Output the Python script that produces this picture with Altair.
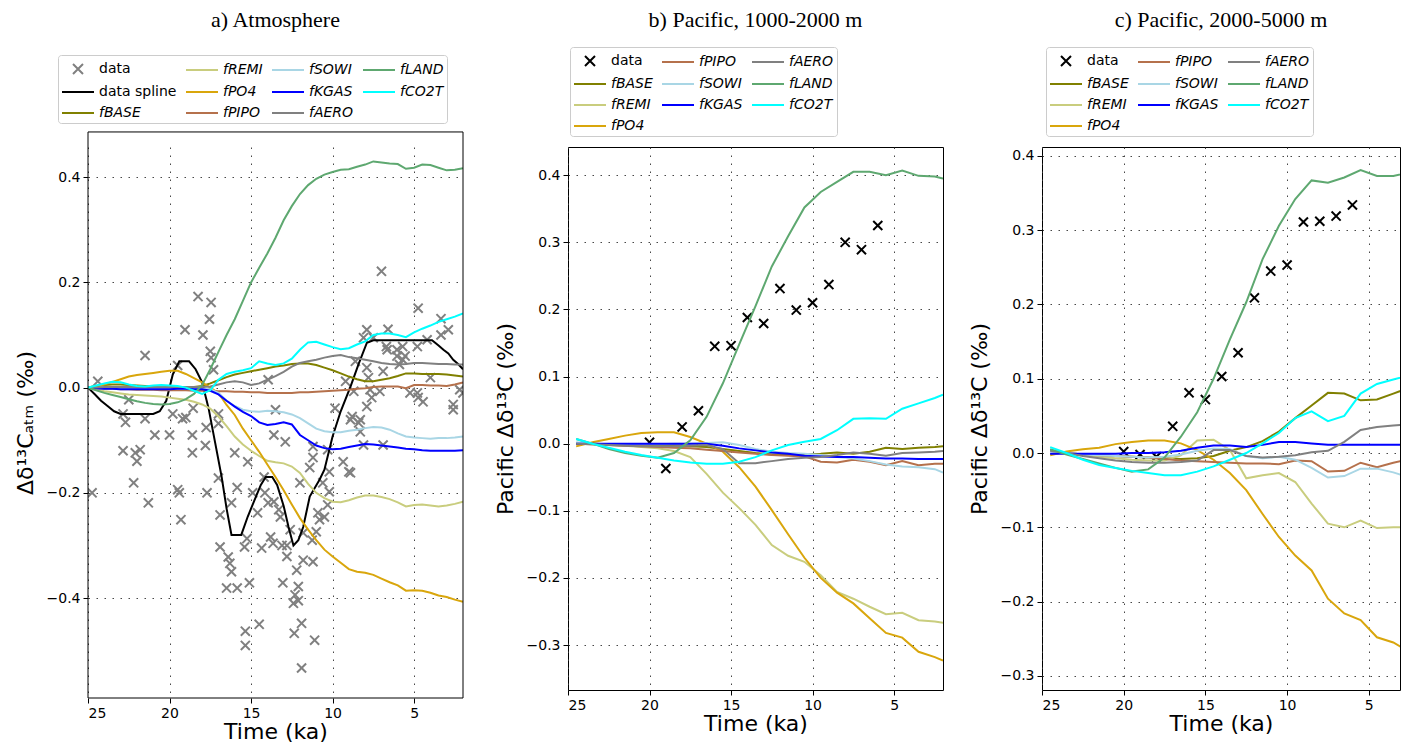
import altair as alt
import pandas as pd

# ---------------- Panel a: Atmosphere ----------------
TIME_A = [25, 24.5, 24, 23.5, 23, 22.5, 22, 21.5, 21, 20.5, 20, 19.5, 19, 18.5, 18, 17.5,
          17, 16.5, 16, 15.5, 15, 14.5, 14, 13.5, 13, 12.5, 12, 11.5, 11, 10.5, 10, 9.5,
          9, 8.5, 8, 7.5, 7, 6.5, 6, 5.5, 5, 4.5, 4, 3.5, 3, 2.5, 2]
A_FBASE = [0, 0.003, 0.005, 0.006, 0.006, 0.005, 0.004, 0.003, 0.002, 0.001, 0.0, 0.0, 0.0, 0.001, 0.003, 0.008,
           0.014, 0.02, 0.025, 0.028, 0.031, 0.034, 0.037, 0.04, 0.042, 0.045, 0.046, 0.046, 0.043, 0.038, 0.033, 0.027,
           0.021, 0.016, 0.012, 0.012, 0.015, 0.018, 0.022, 0.027, 0.027, 0.026, 0.026, 0.026, 0.025, 0.023, 0.021]
A_FREMI = [0, -0.004, -0.007, -0.009, -0.011, -0.013, -0.014, -0.015, -0.016, -0.017, -0.019, -0.021, -0.023, -0.027, -0.032, -0.04,
           -0.055, -0.073, -0.093, -0.108, -0.12, -0.13, -0.139, -0.142, -0.144, -0.15, -0.162, -0.183, -0.2, -0.21, -0.217, -0.218,
           -0.214, -0.209, -0.205, -0.205, -0.208, -0.212, -0.218, -0.226, -0.223, -0.222, -0.224, -0.226, -0.224, -0.221, -0.217]
A_FPO4 = [0, 0.003, 0.006, 0.011, 0.016, 0.021, 0.024, 0.026, 0.028, 0.03, 0.032, 0.032, 0.026, 0.018, 0.01, 0.0,
          -0.01, -0.033, -0.052, -0.078, -0.1, -0.122, -0.146, -0.17, -0.195, -0.222, -0.248, -0.27, -0.29, -0.308, -0.321, -0.333,
          -0.345, -0.35, -0.352, -0.356, -0.363, -0.37, -0.376, -0.386, -0.385, -0.386, -0.39, -0.395, -0.398, -0.403, -0.407]
A_FPIPO = [0, -0.001, -0.002, -0.002, -0.003, -0.003, -0.004, -0.004, -0.004, -0.005, -0.005, -0.005, -0.005, -0.006, -0.006, -0.006,
           -0.007, -0.007, -0.008, -0.008, -0.009, -0.009, -0.01, -0.01, -0.01, -0.01, -0.009, -0.009, -0.008, -0.007, -0.006, -0.005,
           -0.004, -0.002, -0.001, 0.001, 0.002, 0.002, 0.002, -0.001, 0.005, 0.005, 0.004, 0.004, 0.003, 0.006, 0.01]
A_FSOWI = [0, -0.001, -0.001, -0.001, -0.002, -0.002, -0.002, -0.002, -0.002, -0.002, -0.002, -0.002, -0.002, -0.002, -0.002, -0.003,
           -0.01, -0.025, -0.035, -0.042, -0.045, -0.046, -0.044, -0.045, -0.047, -0.051, -0.058, -0.068, -0.078, -0.083, -0.085, -0.085,
           -0.082, -0.08, -0.077, -0.075, -0.076, -0.08, -0.087, -0.093, -0.095, -0.096, -0.097, -0.096, -0.096, -0.095, -0.093]
A_FKGAS = [0, -0.001, -0.002, -0.002, -0.003, -0.003, -0.003, -0.003, -0.003, -0.003, -0.003, -0.002, -0.002, -0.003, -0.003, -0.006,
           -0.013, -0.025, -0.036, -0.046, -0.054, -0.066, -0.071, -0.069, -0.066, -0.07, -0.09, -0.1, -0.11, -0.115, -0.117, -0.116,
           -0.113, -0.11, -0.107, -0.108, -0.11, -0.112, -0.114, -0.116, -0.117, -0.119, -0.12, -0.12, -0.12, -0.12, -0.119]
A_FAERO = [0, 0.0, 0.001, 0.001, 0.001, 0.001, 0.001, 0.001, 0.001, 0.001, 0.001, 0.001, 0.001, 0.001, 0.001, 0.002,
           0.006, 0.01, 0.012, 0.01, 0.005, 0.008, 0.015, 0.022, 0.03, 0.04, 0.047, 0.05, 0.053, 0.057, 0.06, 0.062,
           0.058, 0.056, 0.053, 0.05, 0.047, 0.045, 0.044, 0.045, 0.047, 0.047, 0.046, 0.045, 0.045, 0.044, 0.044]
A_FLAND = [0, -0.005, -0.01, -0.014, -0.018, -0.022, -0.026, -0.029, -0.031, -0.032, -0.031, -0.028, -0.022, -0.012, 0.005, 0.035,
           0.068, 0.1, 0.13, 0.165, 0.2, 0.228, 0.255, 0.285, 0.318, 0.345, 0.368, 0.385, 0.397, 0.405, 0.41, 0.414,
           0.415, 0.42, 0.424, 0.43, 0.428, 0.426, 0.425, 0.416, 0.418, 0.424, 0.423, 0.418, 0.413, 0.414, 0.417]
A_FCO2T = [0, 0.004, 0.008, 0.011, 0.01, 0.006, 0.003, 0.002, 0.004, 0.005, 0.004, 0.003, 0.0, -0.006, -0.012, -0.005,
           0.015, 0.026, 0.03, 0.033, 0.037, 0.05, 0.046, 0.043, 0.046, 0.055, 0.072, 0.086, 0.087, 0.082, 0.077, 0.073,
           0.075, 0.082, 0.088, 0.1, 0.103, 0.103, 0.1, 0.096, 0.105, 0.112, 0.118, 0.125, 0.13, 0.135, 0.141]

SPLINE_T = [25, 24.6, 24.2, 23.8, 23.4, 23.0, 21.0, 20.6, 20.2, 19.8, 19.4, 18.8, 18.4, 18.0, 17.6, 17.2,
            16.8, 16.5, 16.2, 15.6, 15.2, 14.8, 14.4, 14.1, 13.7, 13.4, 13.0, 12.7, 12.4, 12.1, 11.8, 11.4,
            10.8, 10.5, 10.0, 9.5, 8.9, 8.4, 7.9, 7.5, 7.1, 3.9, 3.5, 3.2, 2.9, 2.6, 2.3, 2.0]
SPLINE_V = [0, -0.012, -0.025, -0.035, -0.045, -0.05, -0.05, -0.045, -0.025, 0.025, 0.05, 0.05, 0.035, 0.01, -0.04, -0.105,
            -0.17, -0.23, -0.28, -0.28, -0.245, -0.215, -0.185, -0.17, -0.17, -0.185, -0.225, -0.265, -0.3, -0.29, -0.265, -0.207,
            -0.175, -0.156, -0.093, -0.045, 0.002, 0.045, 0.085, 0.09, 0.09, 0.09, 0.08, 0.072, 0.065, 0.053, 0.045, 0.035]

A_DATA_T = [24.75, 24.4, 22.85, 22.7, 22.5, 22.85, 22.1, 21.8, 22.0, 22.2, 21.3, 21.5, 21.5, 20.9, 20.0, 19.8,
            19.5, 19.2, 19.0, 19.5, 19.4, 19.3, 18.6, 18.6, 18.55, 17.8, 17.7, 17.75, 17.5, 17.3, 17.0, 18.25,
            17.45, 17.55, 19.05, 17.95, 17.45, 17.0, 17.0, 16.9, 16.9, 16.4, 16.3, 16.2, 16.5, 15.85, 16.0, 15.85,
            16.2, 15.2, 15.25, 15.4, 15.1, 15.35, 15.35, 14.5, 14.9, 14.6, 14.15, 13.95, 14.35, 13.8, 13.65, 13.6,
            13.5, 12.9, 13.3, 13.2, 12.8, 12.8, 13.05, 14.2, 13.95, 13.6, 13.1, 12.6, 12.2, 12.1, 12.4, 12.1,
            12.35, 11.9, 11.9, 11.1, 11.8, 11.2, 11.25, 11.0, 10.8, 10.5, 10.3, 11.4, 11.2, 12.0, 10.6, 10.2,
            9.85, 9.35, 9.0, 8.8, 8.3, 7.9, 8.1, 9.2, 8.7, 7.9, 7.6, 6.65, 6.9, 6.05, 5.7, 4.45,
            4.75, 2.6, 2.6, 2.2, 7.0, 4.75, 7.9, 6.6, 3.35, 2.9, 3.35, 8.1, 7.5, 6.7, 5.7, 4.8,
            6.05, 5.55, 5.9, 4.2, 4.0, 8.6, 7.8, 7.7, 7.1, 5.25, 4.8, 2.0, 8.9, 8.4, 8.3, 11.2,
            10.3, 6.9, 10.2, 8.9, 10.9, 11.8, 12.3]
A_DATA_V = [-0.2, 0.012, -0.05, -0.066, -0.023, -0.12, -0.124, -0.118, -0.14, -0.181, -0.219, 0.061, -0.059, -0.09, -0.09, -0.05,
            0.042, -0.059, -0.057, -0.194, -0.2, -0.251, -0.09, -0.124, -0.039, -0.11, -0.2, -0.076, 0.069, 0.034, -0.068, 0.173,
            0.162, 0.13, 0.11, 0.1, 0.057, -0.05, -0.172, -0.242, -0.303, -0.322, -0.334, -0.35, -0.381, -0.381, -0.124, -0.19,
            -0.219, -0.141, -0.287, -0.303, -0.371, -0.463, -0.49, -0.45, -0.2, -0.238, -0.2, -0.219, -0.305, -0.284, -0.296, -0.09,
            -0.042, -0.103, -0.232, -0.246, -0.3, -0.321, -0.371, -0.17, 0.015, -0.217, -0.3, -0.27, -0.347, -0.378, -0.41, -0.405,
            -0.467, -0.448, -0.533, -0.48, -0.328, -0.331, -0.29, -0.274, -0.251, -0.246, -0.223, -0.152, -0.133, -0.181, -0.181, -0.198,
            -0.039, -0.141, -0.16, -0.055, -0.061, -0.036, -0.109, 0.012, -0.007, 0.038, -0.019, 0.072, 0.031, 0.072, 0.053, -0.027,
            -0.019, -0.032, -0.042, -0.004, 0.221, 0.151, 0.11, 0.111, 0.131, 0.11, 0.1, 0.095, 0.095, 0.078, 0.078, 0.078,
            0.06, 0.06, 0.044, 0.091, 0.019, 0.05, 0.019, -0.004, -0.007, -0.01, -0.01, -0.01, -0.061, -0.067, -0.084, -0.112,
            -0.118, -0.109, -0.16, -0.162, -0.238, -0.276, -0.394]

# ---------------- Panel b: Pacific 1000-2000 m ----------------
TIME_B = [24.5, 23.5, 22.5, 21.5, 20.5, 19.5, 18.5, 17.5, 16.5, 15.5, 14.5, 13.5,
          12.5, 11.5, 10.5, 9.5, 8.5, 7.5, 6.5, 5.5, 4.5, 3.5, 2.5, 2.0]
B_FBASE = [0.0, 0.0, -0.001, -0.001, -0.002, -0.002, -0.002, -0.004, -0.005, -0.008, -0.011, -0.014,
           -0.016, -0.016, -0.016, -0.015, -0.013, -0.015, -0.012, -0.006, -0.008, -0.006, -0.005, -0.004]
B_FREMI = [0.0, -0.001, -0.002, -0.003, -0.005, -0.007, -0.011, -0.02, -0.045, -0.073, -0.096, -0.121,
           -0.151, -0.167, -0.176, -0.196, -0.221, -0.231, -0.243, -0.254, -0.252, -0.263, -0.265, -0.267]
B_FPO4 = [-0.004, 0.002, 0.007, 0.012, 0.016, 0.017, 0.017, 0.01, 0.0, -0.012, -0.035, -0.064,
          -0.099, -0.135, -0.17, -0.2, -0.222, -0.238, -0.26, -0.282, -0.289, -0.31, -0.318, -0.323]
B_FPIPO = [0.0, -0.001, -0.002, -0.003, -0.004, -0.005, -0.006, -0.007, -0.009, -0.011, -0.013, -0.015,
           -0.017, -0.018, -0.019, -0.027, -0.028, -0.024, -0.027, -0.032, -0.026, -0.032, -0.03, -0.03]
B_FSOWI = [0.002, 0.0, -0.001, -0.001, -0.001, -0.001, 0.0, 0.0, 0.001, 0.002, -0.002, -0.008,
           -0.012, -0.014, -0.015, -0.017, -0.02, -0.022, -0.026, -0.031, -0.034, -0.035, -0.038, -0.043]
B_FKGAS = [0.0, 0.0, 0.0, 0.0, 0.0, 0.0, 0.0, 0.0, 0.0, -0.003, -0.007, -0.01,
           -0.013, -0.015, -0.018, -0.019, -0.02, -0.02, -0.021, -0.022, -0.022, -0.023, -0.023, -0.023]
B_FAERO = [0.0, -0.001, -0.002, -0.003, -0.004, -0.004, -0.004, -0.003, -0.002, -0.008, -0.029, -0.029,
           -0.026, -0.023, -0.021, -0.02, -0.017, -0.013, -0.015, -0.018, -0.014, -0.013, -0.012, -0.011]
B_FLAND = [0.007, 0.0, -0.008, -0.014, -0.018, -0.021, -0.014, 0.005, 0.04, 0.09, 0.148, 0.205,
           0.264, 0.309, 0.352, 0.375, 0.39, 0.405, 0.405, 0.4, 0.407, 0.399, 0.398, 0.395]
B_FCO2T = [0.007, 0.0, -0.006, -0.012, -0.017, -0.021, -0.025, -0.028, -0.03, -0.03, -0.027, -0.02,
           -0.01, -0.002, 0.003, 0.007, 0.02, 0.037, 0.038, 0.037, 0.052, 0.06, 0.068, 0.073]
B_DATA_T = [20, 19, 18, 17, 16, 15, 14, 13, 12, 11, 10, 9, 8, 7, 6]
B_DATA_V = [0.002, -0.037, 0.025, 0.049, 0.145, 0.146, 0.188, 0.179, 0.231, 0.199, 0.21, 0.237, 0.3, 0.289, 0.325]

# ---------------- Panel c: Pacific 2000-5000 m ----------------
TIME_C = [24.5, 23.5, 22.5, 21.5, 20.5, 19.5, 18.5, 17.5, 16.5, 15.5, 14.5, 13.5,
          12.5, 11.5, 10.5, 9.5, 8.5, 7.5, 6.5, 5.5, 4.5, 3.5, 2.5]
C_FBASE = [0.004, 0.0, -0.002, -0.003, -0.004, -0.005, -0.006, -0.007, -0.008, -0.007, -0.004, 0.003,
           0.008, 0.016, 0.029, 0.047, 0.064, 0.081, 0.08, 0.071, 0.072, 0.08, 0.088]
C_FREMI = [0.003, 0.0, -0.003, -0.005, -0.007, -0.009, -0.01, -0.01, -0.003, 0.017, 0.018, 0.004,
           -0.034, -0.03, -0.027, -0.039, -0.068, -0.095, -0.1, -0.091, -0.101, -0.1, -0.1]
C_FPO4 = [-0.003, 0.002, 0.005, 0.007, 0.012, 0.015, 0.017, 0.017, 0.013, 0.004, -0.009, -0.027,
          -0.05, -0.082, -0.113, -0.138, -0.158, -0.196, -0.216, -0.225, -0.248, -0.255, -0.268]
C_FPIPO = [0.003, 0.0, -0.002, -0.003, -0.004, -0.005, -0.006, -0.008, -0.01, -0.011, -0.012, -0.013,
           -0.014, -0.014, -0.015, -0.01, -0.011, -0.025, -0.024, -0.013, -0.019, -0.013, -0.008]
C_FSOWI = [0.002, 0.0, -0.002, -0.003, -0.004, -0.005, -0.006, -0.005, -0.002, 0.003, 0.006, 0.005,
           -0.004, -0.007, -0.005, -0.009, -0.02, -0.033, -0.031, -0.021, -0.021, -0.026, -0.033]
C_FKGAS = [-0.001, -0.001, -0.001, -0.001, -0.001, 0.0, 0.0, 0.001, 0.003, 0.007, 0.01, 0.01,
           0.008, 0.011, 0.015, 0.015, 0.013, 0.011, 0.011, 0.011, 0.011, 0.011, 0.011]
C_FAERO = [0.003, 0.0, -0.004, -0.007, -0.01, -0.012, -0.013, -0.013, -0.012, -0.01, 0.004, 0.004,
           -0.004, -0.006, -0.005, -0.003, 0.001, 0.003, 0.015, 0.031, 0.035, 0.037, 0.039]
C_FLAND = [0.005, -0.002, -0.008, -0.014, -0.02, -0.025, -0.022, -0.006, 0.022, 0.055, 0.1, 0.153,
           0.203, 0.261, 0.306, 0.342, 0.367, 0.364, 0.371, 0.381, 0.373, 0.373, 0.378]
C_FCO2T = [0.008, 0.0, -0.009, -0.016, -0.02, -0.024, -0.027, -0.03, -0.03, -0.025, -0.018, -0.009,
           0.0, 0.013, 0.027, 0.047, 0.056, 0.043, 0.05, 0.08, 0.093, 0.099, 0.105]
C_DATA_T = [20, 19, 18, 17, 16, 15, 14, 13, 12, 11, 10, 9, 8, 7, 6]
C_DATA_V = [0.002, -0.002, -0.005, 0.036, 0.081, 0.072, 0.103, 0.135, 0.209, 0.245, 0.253, 0.311, 0.312, 0.319, 0.334]

# ---------------- styling ----------------
SERIES = ["fBASE", "fREMI", "fPO4", "fPIPO", "fSOWI", "fKGAS", "fAERO", "fLAND", "fCO2T"]
COLORS = {"data": "#808080", "data spline": "#000000", "fBASE": "#808000", "fREMI": "#c9cd7e",
          "fPO4": "#d9a60c", "fPIPO": "#b5714c", "fSOWI": "#a9d6e5", "fKGAS": "#0000ff",
          "fAERO": "#808080", "fLAND": "#5ea870", "fCO2T": "#00ffff"}
# legend entry order (Vega fills the grid so these read column by column)
LEGEND_A = ["data", "data spline", "fBASE", "fREMI", "fPO4", "fPIPO", "fSOWI", "fKGAS",
            "fAERO", "fLAND", "fCO2T"]
LEGEND_BC = ["data", "fBASE", "fREMI", "fCO2T", "fPIPO", "fSOWI", "fKGAS", "fPO4", "fAERO", "fLAND"]
X_TICKS = [25, 20, 15, 10, 5]
# panel a: full axes box (y from -0.59 to 0.486); its view begins a little lower
A_BOX_X = [25, 2]
A_BOX_Y = [-0.59, 0.486]

CROSS = "M-0.5,-0.5L0.5,0.5M-0.5,0.5L0.5,-0.5"
LEG_LINE = "M-1,0L2.2,0"
LEG_CROSS = "M0.1,-0.5L1.1,0.5M0.1,0.5L1.1,-0.5"


def make_panel(title, title_offset, times, vals, pts_t, pts_v, data_color, xdomain, ydomain,
               yticks, ytitle, width, height, legend_order, ncols, lx, ly, spline=None,
               box=None):
    x = alt.X("t:Q", scale=alt.Scale(domain=xdomain, nice=False, zero=False),
              axis=alt.Axis(values=X_TICKS, format="d", title="Time (ka)"))
    y = alt.Y("v:Q", scale=alt.Scale(domain=ydomain, nice=False, zero=False),
              axis=alt.Axis(values=yticks, format=".1f", title=ytitle))
    rows = []
    for name in SERIES:
        for t, v in zip(times, vals[name]):
            rows.append({"series": name, "t": t, "v": v})
    lines_df = pd.DataFrame(rows)
    pts_df = pd.DataFrame({"t": pts_t, "v": pts_v})
    colors = dict(COLORS)
    colors["data"] = data_color
    cscale = alt.Scale(domain=legend_order, range=[colors[s] for s in legend_order])
    sscale = alt.Scale(domain=legend_order,
                       range=[LEG_CROSS if s == "data" else LEG_LINE for s in legend_order])
    legend = alt.Legend(
        title=None, orient="none", legendX=lx, legendY=ly, columns=ncols,
        symbolSize=400, symbolStrokeWidth=2, symbolOpacity=1, symbolFillColor="transparent",
        labelFont="DejaVu Sans", labelFontSize=14, labelColor="black", labelLimit=0,
        labelFontStyle={"expr": "(datum.value == 'data' || datum.value == 'data spline') ? 'normal' : 'italic'"},
        labelOffset=16, rowPadding=3, columnPadding=5, padding=3,
        strokeColor="#cccccc", fillColor="white", cornerRadius=3,
    )
    layers = [
        alt.Chart(pts_df).mark_point(shape=CROSS, size=330, filled=False, strokeWidth=2,
                                     color=data_color, opacity=1, clip=True).encode(x=x, y=y)
    ]
    if spline is not None:
        sp_df = pd.DataFrame({"t": spline[0], "v": spline[1]})
        layers.append(alt.Chart(sp_df).mark_line(color="black", strokeWidth=2, clip=True)
                      .encode(x=x, y=y))
    layers.append(
        alt.Chart(lines_df).mark_line(strokeWidth=2, clip=True).encode(
            x=x, y=y, color=alt.Color("series:N", scale=cscale, legend=legend))
    )
    leg_df = pd.DataFrame({"series": legend_order, "t": [-40] * len(legend_order),
                           "v": [0.0] * len(legend_order)})
    layers.append(
        alt.Chart(leg_df).mark_point(filled=False, strokeWidth=2, size=400, clip=True).encode(
            x=x, y=y,
            color=alt.Color("series:N", scale=cscale, legend=legend),
            shape=alt.Shape("series:N", scale=sscale, legend=legend))
    )
    props = {}
    if box is not None:
        bx, by = box
        hz = pd.DataFrame({"t": [bx[0], bx[0]], "t2": [bx[1], bx[1]], "v": [by[0], by[1]]})
        vt = pd.DataFrame({"t": [bx[0], bx[1]], "v": [by[0], by[0]], "v2": [by[1], by[1]]})
        layers.append(alt.Chart(hz).mark_rule(color="black", strokeWidth=1, clip=False)
                      .encode(x=x, x2="t2:Q", y=y))
        layers.append(alt.Chart(vt).mark_rule(color="black", strokeWidth=1, clip=False)
                      .encode(x=x, y=y, y2="v2:Q"))
        props["view"] = alt.ViewBackground(stroke="transparent")
    return alt.layer(*layers).properties(
        width=width, height=height,
        title=alt.TitleParams(title, font="Liberation Serif", fontSize=22, fontWeight="normal",
                              color="black", anchor="middle", frame="group", offset=title_offset),
        **props,
    )


pa = make_panel("a) Atmosphere", 23, TIME_A,
                {"fBASE": A_FBASE, "fREMI": A_FREMI, "fPO4": A_FPO4, "fPIPO": A_FPIPO,
                 "fSOWI": A_FSOWI, "fKGAS": A_FKGAS, "fAERO": A_FAERO, "fLAND": A_FLAND,
                 "fCO2T": A_FCO2T},
                A_DATA_T, A_DATA_V, "#808080", [25, 2], [-0.59, 0.4574],
                [-0.4, -0.2, 0.0, 0.2, 0.4], "Δδ¹³Cₐₜₘ (‰)", 375, 551,
                LEGEND_A, 4, -30, -92, spline=(SPLINE_T, SPLINE_V), box=(A_BOX_X, A_BOX_Y))
pb = make_panel("b) Pacific, 1000-2000 m", 15, TIME_B,
                {"fBASE": B_FBASE, "fREMI": B_FREMI, "fPO4": B_FPO4, "fPIPO": B_FPIPO,
                 "fSOWI": B_FSOWI, "fKGAS": B_FKGAS, "fAERO": B_FAERO, "fLAND": B_FLAND,
                 "fCO2T": B_FCO2T},
                B_DATA_T, B_DATA_V, "#000000", [25, 2], [-0.367, 0.442],
                [-0.3, -0.2, -0.1, 0.0, 0.1, 0.2, 0.3, 0.4], "Pacific Δδ¹³C (‰)", 375, 543,
                LEGEND_BC, 3, 2, -100)
pc = make_panel("c) Pacific, 2000-5000 m", 15, TIME_C,
                {"fBASE": C_FBASE, "fREMI": C_FREMI, "fPO4": C_FPO4, "fPIPO": C_FPIPO,
                 "fSOWI": C_FSOWI, "fKGAS": C_FKGAS, "fAERO": C_FAERO, "fLAND": C_FLAND,
                 "fCO2T": C_FCO2T},
                C_DATA_T, C_DATA_V, "#000000", [25, 3.09], [-0.319, 0.412],
                [-0.3, -0.2, -0.1, 0.0, 0.1, 0.2, 0.3, 0.4], "Pacific Δδ¹³C (‰)", 358, 543,
                LEGEND_BC, 3, 4, -100)

inner = alt.concat(pb, pc, columns=2, spacing=23, align="none").resolve_scale(
    color="independent", shape="independent")
chart = alt.concat(pa, inner, columns=2, spacing=29, align="none").resolve_scale(
    color="independent", shape="independent"
).properties(
    padding={"left": 5, "top": 0, "right": 0, "bottom": 0}
).configure_view(
    stroke="black", strokeWidth=1
).configure_axis(
    domain=False, grid=True, gridColor="#333333", gridDash=[1.5, 6.5], gridWidth=1,
    gridOpacity=0.9, tickColor="black", tickSize=5, tickWidth=1,
    labelFont="DejaVu Sans", labelFontSize=14, labelColor="black", labelPadding=3,
    titleFont="DejaVu Sans", titleFontSize=22, titleFontWeight="normal", titleColor="black",
    titlePadding=1
).configure_axisY(titlePadding=9)

chart.save("out.html", embed_options={"renderer": "svg", "actions": False})
